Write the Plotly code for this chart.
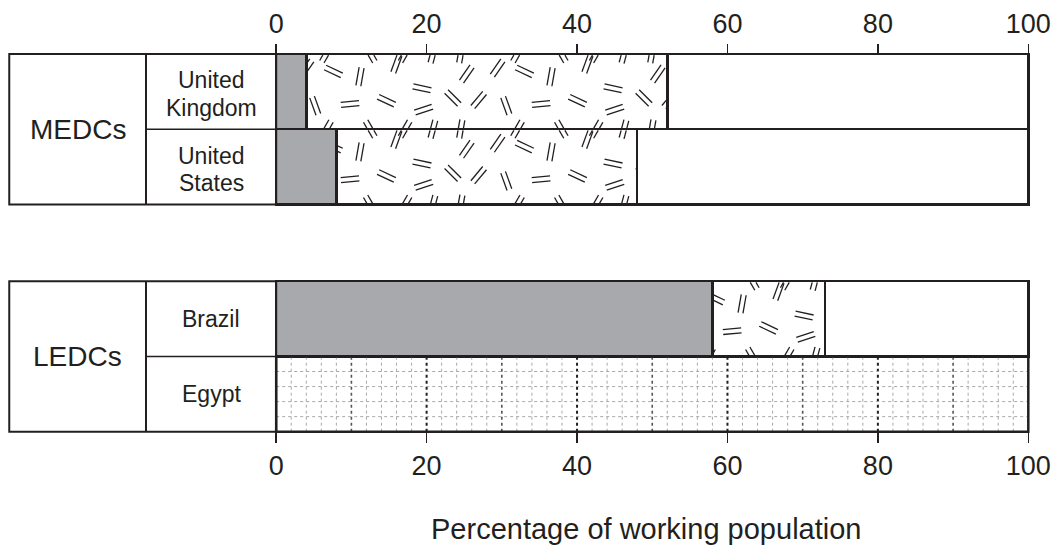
import math
import plotly.graph_objects as go

# ---------------- data ----------------
COUNTRIES = ["United Kingdom", "United States", "Brazil", "Egypt"]
COUNTRY_LINES = [["United", "Kingdom"], ["United", "States"], ["Brazil"], ["Egypt"]]
GROUPS = ["MEDCs", "LEDCs"]
GROUP_MEMBERS = [[0, 1], [2, 3]]
PRIMARY = [4, 8, 58, None]      # grey
SECONDARY = [48, 40, 15, None]  # hatched
TERTIARY = [48, 52, 27, None]   # white
TICKS = [0, 20, 40, 60, 80, 100]
X_TITLE = "Percentage of working population"

# ---------------- layout constants ----------------
W, H = 1059, 545
ML, MR, MT, MB = 8, 24, 50, 108
PX_X = 7.558          # px per percentage point
PX_Y = 75.24          # px per row
X0_PX = 277.5
X_LO = -(X0_PX - ML) / PX_X
X_HI = X_LO + (W - ML - MR) / PX_X
ROW_Y = [4.02, 3.02, 1.0, 0.0]
Y_BOTTOM_PX = 431.7
PLOT_H = H - MT - MB
Y_LO = -0.5 - (H - MB - Y_BOTTOM_PX) / PX_Y
Y_HI = Y_LO + PLOT_H / PX_Y
TABLE_X0 = -35.49
TABLE_XM = -17.31

INK = "#231f20"
GREY = "#a7a9ac"
FONT = "Liberation Sans, Arial, Helvetica, sans-serif"


def paper_y(px):
    return (H - MB - px) / PLOT_H


fig = go.Figure()

# ---------------- stacked bars ----------------
ys = [ROW_Y[i] for i in range(len(COUNTRIES))]
for vals, col in ((PRIMARY, GREY), (SECONDARY, "white"), (TERTIARY, "white")):
    fig.add_trace(go.Bar(
        y=ys, x=vals, orientation="h", width=1.0,
        marker=dict(color=col, line=dict(color=INK, width=2.5)),
        hoverinfo="skip", showlegend=False,
    ))

# ---------------- hatch texture for the secondary segments ----------------
TILE_W = 192.0
MARK_LEN = 18.5
MARK_GAP = 5.0
# (x offset px within tile, y offset px from row top, angle deg)
MARKS = [(57.5, 17.4, -25), (84.2, 22.7, 80), (120.8, 10, 70), (157.5, 0, 75),
         (39.2, 51.7, 110), (74.2, 50, 5), (110.8, 46.7, -25), (146.5, 34.3, -12),
         (148.2, 55.7, 18), (177.5, 44, -45), (191.5, 20, 55), (11.5, 46, 50),
         (30.5, 14, 55), (50.5, 75, 60), (94.5, 75, 120), (129.5, 75, 60),
         (185.5, 75, 80)]


def clip(p0, p1, xmin, xmax, ymin, ymax):
    x0, y0 = p0
    x1, y1 = p1
    dx, dy = x1 - x0, y1 - y0
    t0, t1 = 0.0, 1.0
    for p, q in ((-dx, x0 - xmin), (dx, xmax - x0), (-dy, y0 - ymin), (dy, ymax - y0)):
        if p == 0:
            if q < 0:
                return None
        else:
            r = q / p
            if p < 0:
                if r > t1:
                    return None
                t0 = max(t0, r)
            else:
                if r < t0:
                    return None
                t1 = min(t1, r)
    return (x0 + t0 * dx, y0 + t0 * dy), (x0 + t1 * dx, y0 + t1 * dy)


hx, hy = [], []
for i in range(len(COUNTRIES)):
    if PRIMARY[i] is None or SECONDARY[i] is None:
        continue
    sx0 = PRIMARY[i]
    sx1 = PRIMARY[i] + SECONDARY[i]
    top = ROW_Y[i] + 0.5
    bot = ROW_Y[i] - 0.5
    for k in range(-1, 6):
        for mx, mdy, ang in MARKS:
            for wrap in (-PX_Y, 0.0, PX_Y):
                cx = mx + k * TILE_W
                cy = -(mdy + wrap)
                a = math.radians(ang)
                ux, uy = math.cos(a) * MARK_LEN / 2, math.sin(a) * MARK_LEN / 2
                nx, ny = -math.sin(a) * MARK_GAP / 2, math.cos(a) * MARK_GAP / 2
                for s in (-1, 1):
                    ax_, ay_ = cx - ux + s * nx, cy - uy + s * ny
                    bx_, by_ = cx + ux + s * nx, cy + uy + s * ny
                    p0 = (ax_ / PX_X, top + ay_ / PX_Y)
                    p1 = (bx_ / PX_X, top + by_ / PX_Y)
                    c = clip(p0, p1, sx0 + 0.15, sx1 - 0.15, bot + 0.015, top - 0.015)
                    if c:
                        hx += [c[0][0], c[1][0], None]
                        hy += [c[0][1], c[1][1], None]

fig.add_trace(go.Scatter(x=hx, y=hy, mode="lines", line=dict(color=INK, width=1.3),
                         hoverinfo="skip", showlegend=False))
# dummy trace for the top axis
fig.add_trace(go.Scatter(x=[0, 100], y=[0, 0], xaxis="x2", mode="markers",
                         marker=dict(opacity=0), hoverinfo="skip", showlegend=False))

shapes = []
# ---------------- blank grid for rows without data ----------------
for i in range(len(COUNTRIES)):
    if PRIMARY[i] is not None:
        continue
    top = ROW_Y[i] + 0.5
    bot = ROW_Y[i] - 0.5
    for v in range(2, 100, 2):
        if v % 20 == 0:
            ln = dict(color=INK, width=2, dash="dot")
        elif v % 10 == 0:
            ln = dict(color="#555555", width=1.6, dash="dot")
        else:
            ln = dict(color="#a8a8a8", width=1, dash="dot")
        shapes.append(dict(type="line", xref="x", yref="y", x0=v, x1=v, y0=bot, y1=top, line=ln))
    for k in range(1, 5):
        yy = bot + k * 0.2
        shapes.append(dict(type="line", xref="x", yref="y", x0=0, x1=100, y0=yy, y1=yy,
                           line=dict(color="#a8a8a8", width=1, dash="dot")))
    shapes.append(dict(type="rect", xref="x", yref="y", x0=0, x1=100, y0=bot, y1=top,
                       line=dict(color=INK, width=2.5)))

# ---------------- label table ----------------
annotations = []
for g, members in zip(GROUPS, GROUP_MEMBERS):
    gtop = max(ROW_Y[m] for m in members) + 0.5
    gbot = min(ROW_Y[m] for m in members) - 0.5
    shapes.append(dict(type="rect", xref="x", yref="y", x0=TABLE_X0, x1=0, y0=gbot, y1=gtop,
                       line=dict(color=INK, width=2)))
    shapes.append(dict(type="line", xref="x", yref="y", x0=TABLE_XM, x1=TABLE_XM, y0=gbot, y1=gtop,
                       line=dict(color=INK, width=2)))
    for m in members[1:]:
        yy = ROW_Y[m] + 0.5
        shapes.append(dict(type="line", xref="x", yref="y", x0=TABLE_XM, x1=0, y0=yy, y1=yy,
                           line=dict(color=INK, width=1.5)))
    annotations.append(dict(xref="x", yref="y", x=(TABLE_X0 + TABLE_XM) / 2, y=(gtop + gbot) / 2,
                            text=g, showarrow=False, font=dict(size=28, color=INK, family=FONT),
                            xanchor="center", yanchor="middle"))
    for m in members:
        lines = COUNTRY_LINES[m]
        if len(lines) == 1:
            offs = [0.0]
        else:
            offs = [0.15, -0.22]
        for t, o in zip(lines, offs):
            annotations.append(dict(xref="x", yref="y", x=TABLE_XM / 2, y=ROW_Y[m] + o,
                                    text=t, showarrow=False,
                                    font=dict(size=23, color=INK, family=FONT),
                                    xanchor="center", yanchor="middle"))

annotations.append(dict(xref="x", yref="paper", x=49.15, y=paper_y(529), text=X_TITLE,
                        showarrow=False, font=dict(size=29, color=INK, family=FONT),
                        xanchor="center", yanchor="middle"))

axis_common = dict(range=[X_LO, X_HI], tickmode="array", tickvals=TICKS,
                   ticktext=[str(t) for t in TICKS], ticks="outside", ticklen=10,
                   tickwidth=1.5, tickcolor=INK, showgrid=False, zeroline=False,
                   showline=False, tickfont=dict(size=27, color=INK, family=FONT),
                   ticklabeloverflow="allow", fixedrange=True)

fig.update_layout(
    width=W, height=H, autosize=False,
    margin=dict(l=ML, r=MR, t=MT, b=MB, pad=0),
    paper_bgcolor="white", plot_bgcolor="white",
    barmode="stack", bargap=0,
    showlegend=False,
    xaxis=dict(**axis_common, side="bottom", anchor="free", position=paper_y(Y_BOTTOM_PX)),
    xaxis2=dict(**axis_common, side="top", anchor="free", position=paper_y(54), overlaying="x"),
    yaxis=dict(range=[Y_LO, Y_HI], visible=False, fixedrange=True),
    shapes=shapes,
    annotations=annotations,
)

fig.write_html(
    "out.html",
    config={"staticPlot": True},
    post_script="document.body.style.margin='0';document.body.style.overflow='hidden';",
)
